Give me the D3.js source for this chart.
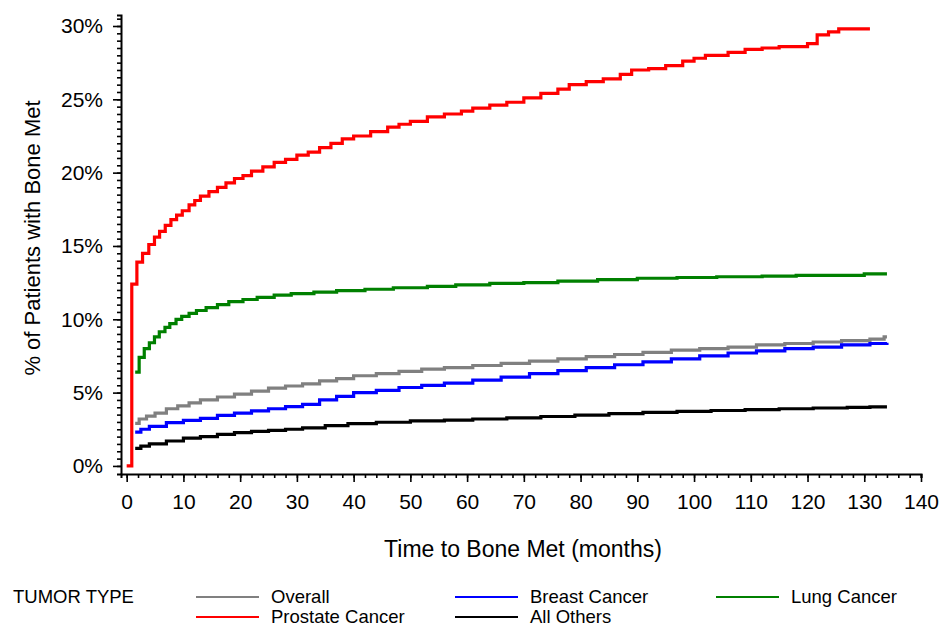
<!DOCTYPE html>
<html><head><meta charset="utf-8">
<script src="https://cdn.jsdelivr.net/npm/d3@7"></script>
<style>body{margin:0;background:#fff;} text{font-family:"Liberation Sans",Arial,sans-serif;fill:#000;}</style>
</head><body><svg id="c" width="943" height="628"></svg>
<script>
const overall = [[1.5,2.9],[2.2,3.2],[3.5,3.4],[5,3.6],[7,3.9],[9,4.1],[11,4.3],[13,4.5],[16,4.7],[19,4.9],[22,5.1],[25,5.3],[28,5.45],[31,5.6],[34,5.8],[37,5.95],[40,6.15],[44,6.3],[48,6.45],[52,6.6],[56,6.7],[61,6.85],[66,7.0],[71,7.15],[76,7.3],[81,7.45],[86,7.6],[91,7.75],[96,7.9],[101,8.0],[106,8.1],[111,8.25],[116,8.35],[121,8.45],[126,8.55],[131,8.65],[133.5,8.8],[134,8.8]];
const breast = [[1.5,2.3],[2.5,2.5],[4,2.7],[7,2.95],[10,3.1],[13,3.25],[16,3.45],[19,3.6],[22,3.75],[25,3.9],[28,4.05],[31,4.2],[34,4.5],[37,4.75],[40,5.0],[44,5.15],[48,5.35],[52,5.5],[56,5.65],[61,5.85],[66,6.05],[71,6.3],[76,6.5],[81,6.7],[86,6.9],[91,7.1],[96,7.3],[101,7.5],[106,7.7],[111,7.85],[116,8.0],[121,8.1],[126,8.25],[131,8.35],[134,8.4]];
const lung = [[1.5,6.4],[2.2,7.4],[3.1,8.0],[4.0,8.4],[4.9,8.8],[5.75,9.15],[6.75,9.45],[7.6,9.7],[8.7,10.0],[9.7,10.2],[11,10.4],[12.3,10.6],[14,10.8],[16,11.0],[18,11.2],[20.5,11.35],[23,11.5],[26,11.65],[29,11.75],[33,11.85],[37,11.95],[42,12.05],[47,12.15],[53,12.25],[58,12.35],[64,12.45],[70,12.5],[76,12.6],[83,12.7],[90,12.8],[97,12.85],[104,12.9],[112,12.95],[118,13.0],[130,13.1],[134,13.1]];
const prostate = [[0,0],[0.9,12.4],[1.8,13.9],[2.8,14.5],[3.9,15.1],[4.9,15.6],[5.8,16.0],[6.8,16.4],[7.8,16.8],[8.8,17.1],[9.8,17.4],[11,17.8],[12,18.1],[13,18.4],[14.5,18.7],[16,19.0],[17.5,19.3],[19,19.6],[20.5,19.8],[22,20.1],[24,20.4],[26,20.7],[28,20.9],[30,21.2],[32,21.4],[34,21.7],[36,22.0],[38,22.3],[40,22.5],[43,22.8],[46,23.1],[48,23.3],[50,23.5],[53,23.8],[56,24.0],[59,24.2],[61,24.4],[64,24.6],[67,24.8],[70,25.1],[73,25.4],[76,25.7],[78,26.0],[81,26.2],[84,26.4],[87,26.7],[89,27.0],[92,27.1],[95,27.3],[98,27.6],[100,27.8],[102,28.0],[106,28.2],[109,28.4],[112,28.5],[115,28.6],[120,28.8],[121.7,29.4],[123.7,29.6],[125.5,29.8],[131,29.8]];
const others = [[1.5,1.2],[2.5,1.35],[4,1.5],[7,1.7],[10,1.9],[13,2.0],[16,2.15],[19,2.27],[22,2.35],[25,2.42],[28,2.5],[31,2.6],[35,2.75],[39,2.88],[44,2.98],[50,3.07],[56,3.13],[61,3.2],[67,3.28],[73,3.37],[79,3.47],[85,3.57],[91,3.65],[97,3.72],[103,3.78],[109,3.84],[115,3.9],[121,3.95],[127,4.0],[131,4.03],[134,4.03]];
const seriesNames = ["Overall","Breast Cancer","Lung Cancer","Prostate Cancer","All Others"];
const seriesColors = ["#808080","#0000ff","#008000","#ff0000","#000000"];
const xTicks = d3.range(0,141,10);
const yTicks = [0,5,10,15,20,25,30];

const svg = d3.select("#c");
const x = d3.scaleLinear().domain([-1,140]).range([121,921]);
const y = d3.scaleLinear().domain([-0.55,30.75]).range([474,15]);

// axes
const xa = svg.append("g").attr("transform","translate(0,474)");
xa.call(d3.axisBottom(x).tickValues(d3.range(0,141,2)).tickSize(4).tickFormat(""));
const xaM = xa.append("g").call(d3.axisBottom(x).tickValues(xTicks).tickSize(8).tickPadding(12).tickFormat(d=>d));
xaM.select("path.domain").remove();
xa.selectAll("path.domain").attr("stroke-width",2);
xa.selectAll(".tick line").attr("stroke-width",1.6);
xa.selectAll(".tick text").style("font-size","21px").attr("fill","#000").attr("font-family","Liberation Sans, Arial");

const ya = svg.append("g").attr("transform","translate(121,0)");
ya.call(d3.axisLeft(y).tickValues(d3.range(0,30.6,0.5)).tickSize(4).tickFormat(""));
const yaM = ya.append("g").call(d3.axisLeft(y).tickValues(yTicks).tickSize(8).tickPadding(10).tickFormat(d=>d+"%"));
yaM.select("path.domain").remove();
ya.selectAll("path.domain").attr("stroke-width",2);
ya.selectAll(".tick line").attr("stroke-width",1.6);
ya.selectAll(".tick text").style("font-size","21px").attr("fill","#000").attr("font-family","Liberation Sans, Arial");

// titles
svg.append("text").attr("x",523).attr("y",557).attr("text-anchor","middle").style("font-size","23px").text("Time to Bone Met (months)");
svg.append("text").attr("transform","translate(40,238) rotate(-90)").attr("text-anchor","middle").style("font-size","22px").text("% of Patients with Bone Met");

// lines
const line = d3.line().x(d=>x(d[0])).y(d=>y(d[1])).curve(d3.curveStepAfter);
const data = [overall, breast, lung, others, prostate];
const dataColors = [seriesColors[0],seriesColors[1],seriesColors[2],seriesColors[4],seriesColors[3]];
data.forEach((d,i)=>{
  svg.append("path").attr("d",line(d)).attr("fill","none").attr("stroke",dataColors[i]).attr("stroke-width",3.2);
});

// legend
svg.append("text").attr("x",13).attr("y",603).style("font-size","18.5px").text("TUMOR TYPE");
const legPos = [[196,597],[455,597],[716,597],[196,617],[455,617]];
seriesNames.forEach((n,i)=>{
  const [lx,ly]=legPos[i];
  svg.append("line").attr("x1",lx).attr("x2",lx+63).attr("y1",ly).attr("y2",ly).attr("stroke",seriesColors[i]).attr("stroke-width",2);
  svg.append("text").attr("x",lx+75).attr("y",ly+6).style("font-size","18.5px").text(n);
});
</script></body></html>
